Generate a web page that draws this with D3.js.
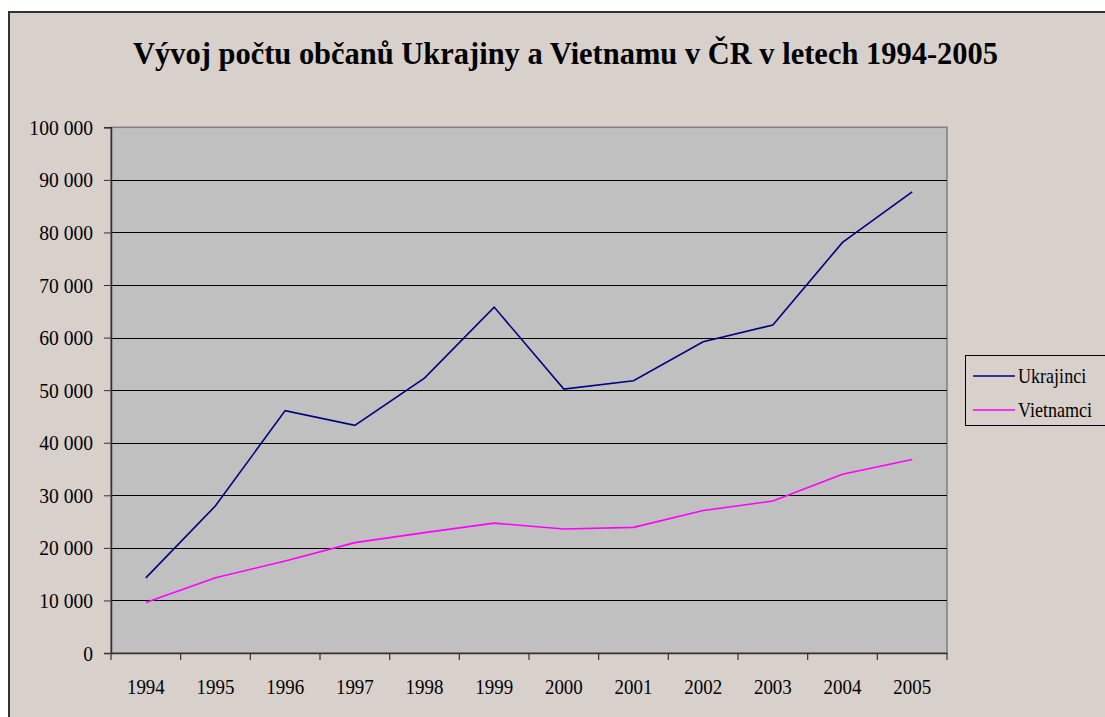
<!DOCTYPE html>
<html><head><meta charset="utf-8">
<script src="https://cdn.jsdelivr.net/npm/d3@7"></script>
<style>body{margin:0;background:#fff}svg{display:block}</style>
</head><body>
<svg id="c" width="1105" height="717"></svg>
<script>
const years = ["1994","1995","1996","1997","1998","1999","2000","2001","2002","2003","2004","2005"];
const ukrajinci = [14300, 28000, 46100, 43300, 52300, 65800, 50200, 51800, 59200, 62400, 78100, 87700];
const vietnamci = [9600, 14300, 17500, 21000, 22900, 24700, 23600, 23900, 27100, 28900, 34000, 36800];
const seriesNames = ["Ukrajinci", "Vietnamci"];
const seriesColors = ["#000080", "#FF00FF"];
const yTicks = [0,10000,20000,30000,40000,50000,60000,70000,80000,90000,100000];
const title = "Vývoj počtu občanů Ukrajiny a Vietnamu v ČR v letech 1994-2005";

const svg = d3.select("#c");
const font = "'Liberation Serif','Times New Roman',serif";
svg.append("rect").attr("x",9).attr("y",12).attr("width",1120).attr("height",730)
  .attr("fill","#D8D0CA").attr("stroke","#333").attr("stroke-width",2);

const L=111, R=947, T=127.3, B=653;
const x = d3.scaleBand().domain(years).range([L,R]);
const y = d3.scaleLinear().domain([0,100000]).range([B,T]);

svg.append("rect").attr("x",L).attr("y",T).attr("width",R-L).attr("height",B-T)
  .attr("fill","#C0C0C0").attr("stroke","#808080").attr("stroke-width",1.5);

svg.append("g").selectAll("line").data(yTicks.filter(d=>d>0&&d<100000)).join("line")
  .attr("x1",L).attr("x2",R).attr("y1",d=>Math.round(y(d))+0.5).attr("y2",d=>Math.round(y(d))+0.5)
  .attr("stroke","#000").attr("stroke-width",1);

function squeeze(sel, f){
  sel.each(function(){ const w=this.getComputedTextLength(); d3.select(this).attr("textLength",w*f).attr("lengthAdjust","spacingAndGlyphs"); });
}

const fmt = d => d3.format(",")(d).replace(/,/g," ");
const ya = svg.append("g").attr("transform",`translate(${L},0)`)
  .call(d3.axisLeft(y).tickValues(yTicks).tickFormat(fmt).tickSize(7).tickPadding(11));
ya.select(".domain").attr("stroke","#333").attr("stroke-width",1.5);
ya.selectAll(".tick line").attr("stroke","#333");
ya.selectAll("text").attr("font-family",font).attr("font-size",22).attr("fill","#000").call(squeeze,0.89);

const xa = svg.append("g").attr("transform",`translate(0,${B})`)
  .call(d3.axisBottom(x).tickSize(0).tickPadding(25));
xa.select(".domain").attr("stroke","#333").attr("stroke-width",1.5);
xa.selectAll("text").attr("font-family",font).attr("font-size",22).attr("fill","#000").call(squeeze,0.86);
svg.append("g").selectAll("line").data(d3.range(years.length+1)).join("line")
  .attr("x1",i=>L+i*x.step()).attr("x2",i=>L+i*x.step())
  .attr("y1",B).attr("y2",B+7).attr("stroke","#333").attr("stroke-width",1.2);

const line = d3.line().x((d,i)=>x(years[i])+x.bandwidth()/2).y(d=>y(d));
[ukrajinci, vietnamci].forEach((s,k)=>{
  svg.append("path").datum(s).attr("d",line).attr("fill","none")
    .attr("stroke",seriesColors[k]).attr("stroke-width",1.6).attr("stroke-linejoin","miter");
});

svg.append("text").attr("x",565.5).attr("y",64).attr("text-anchor","middle")
  .attr("font-family",font).attr("font-weight","bold").attr("font-size",32)
  .attr("textLength",865).attr("lengthAdjust","spacingAndGlyphs").text(title);

const lg = svg.append("g");
lg.append("rect").attr("x",965.5).attr("y",355.5).attr("width",150).attr("height",70)
  .attr("fill","#D8D0CA").attr("stroke","#000").attr("stroke-width",1);
seriesNames.forEach((n,k)=>{
  const yy = 376 + k*34;
  lg.append("line").attr("x1",973).attr("x2",1015).attr("y1",yy).attr("y2",yy)
    .attr("stroke",seriesColors[k]).attr("stroke-width",1.6);
  lg.append("text").attr("x",1018).attr("y",yy+7).attr("font-family",font).attr("font-size",21)
    .text(n).call(squeeze,0.86);
});
</script>
</body></html>
